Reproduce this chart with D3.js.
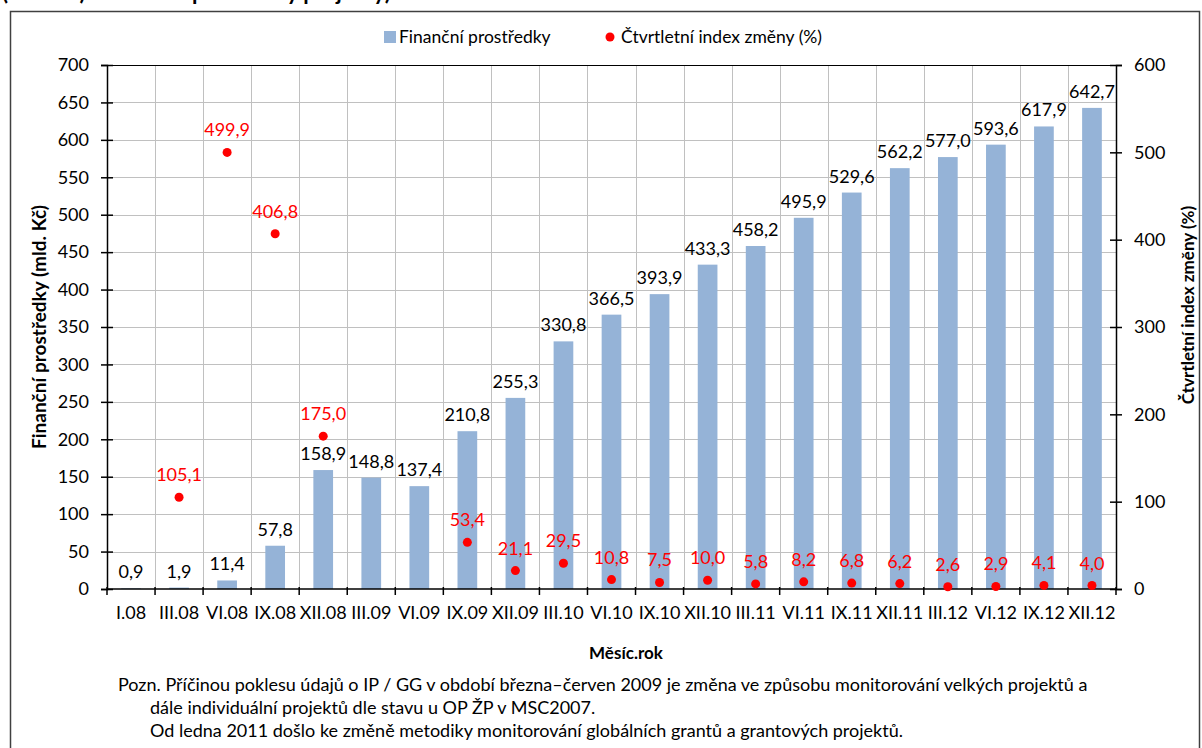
<!DOCTYPE html>
<html>
<head>
<meta charset="utf-8">
<script src="https://cdn.jsdelivr.net/npm/d3@7"></script>
<style>
  body { margin: 0; background: #fff; }
  text { font-family: Lato, "Open Sans", sans-serif; }
</style>
</head>
<body>
<script>
// Data
var kategorie = ["I.08", "III.08", "VI.08", "IX.08", "XII.08", "III.09", "VI.09", "IX.09", "XII.09",
                 "III.10", "VI.10", "IX.10", "XII.10", "III.11", "VI.11", "IX.11", "XII.11",
                 "III.12", "VI.12", "IX.12", "XII.12"];
var prostredky = [0.9, 1.9, 11.4, 57.8, 158.9, 148.8, 137.4, 210.8, 255.3, 330.8, 366.5,
                  393.9, 433.3, 458.2, 495.9, 529.6, 562.2, 577.0, 593.6, 617.9, 642.7];
var indexZmeny = [null, 105.1, 499.9, 406.8, 175.0, null, null, 53.4, 21.1, 29.5, 10.8,
                  7.5, 10.0, 5.8, 8.2, 6.8, 6.2, 2.6, 2.9, 4.1, 4.0];
var levaOsaTicky = [0, 50, 100, 150, 200, 250, 300, 350, 400, 450, 500, 550, 600, 650, 700];
var pravaOsaTicky = [0, 100, 200, 300, 400, 500, 600];

var w = 1202;
var h = 748;
var plocha = {left: 107, right: 1116, top: 65, bottom: 589};

var modra = "#95B3D7";
var cervena = "#FF0000";
var mrizka = "#C0C0C0";
var pismo = 18;

var svg = d3.select("body")
    .append("svg")
        .attr("width", w)
        .attr("height", h);

// cropped title of the original (only its bottom is visible)
svg.append("text")
    .attr("x", 2)
    .attr("y", 0)
    .attr("font-size", 22)
    .attr("font-weight", "bold")
    .text("(mld. Kč) – finanční prostředky projekty)");

// outer frame
svg.append("rect")
    .attr("x", 10.5).attr("y", 11.5)
    .attr("width", 1189).attr("height", 760)
    .attr("fill", "none")
    .attr("stroke", "#404040")
    .attr("stroke-width", 1.5);

// scales
var x = d3.scaleBand()
    .domain(kategorie)
    .range([plocha.left, plocha.right])
    .padding(0);
var yL = d3.scaleLinear().domain([0, 700]).range([plocha.bottom, plocha.top]);
var yR = d3.scaleLinear().domain([0, 600]).range([plocha.bottom, plocha.top]);
var sirkaSloupce = x.bandwidth() * 0.41;
var stred = function(c) { return x(c) + x.bandwidth() / 2; };
var fmt = function(v) { return d3.format(".1f")(v).replace(".", ","); };

// grid
svg.append("g").selectAll("line")
    .data(levaOsaTicky.slice(1, -1))
    .enter().append("line")
        .attr("x1", plocha.left).attr("x2", plocha.right)
        .attr("y1", function(d) { return Math.round(yL(d)) + 0.5; })
        .attr("y2", function(d) { return Math.round(yL(d)) + 0.5; })
        .attr("stroke", mrizka);

svg.append("g").selectAll("line")
    .data(kategorie.slice(1))
    .enter().append("line")
        .attr("x1", function(d) { return Math.round(x(d)) + 0.5; })
        .attr("x2", function(d) { return Math.round(x(d)) + 0.5; })
        .attr("y1", plocha.top).attr("y2", plocha.bottom)
        .attr("stroke", mrizka);

// top border of the plot
svg.append("line")
    .attr("x1", plocha.left).attr("x2", plocha.right)
    .attr("y1", plocha.top + 0.5).attr("y2", plocha.top + 0.5)
    .attr("stroke", "#000");

// bars
svg.append("g").selectAll("rect")
    .data(prostredky)
    .enter().append("rect")
        .attr("x", function(d, i) { return stred(kategorie[i]) - sirkaSloupce / 2; })
        .attr("y", function(d) { return yL(d); })
        .attr("width", sirkaSloupce)
        .attr("height", function(d) { return yL(0) - yL(d); })
        .attr("fill", modra);

// bar labels
svg.append("g").selectAll("text")
    .data(prostredky)
    .enter().append("text")
        .attr("x", function(d, i) { return stred(kategorie[i]); })
        .attr("y", function(d) { return yL(d) - 10; })
        .attr("text-anchor", "middle")
        .attr("font-size", pismo)
        .attr("fill", "#000")
        .text(fmt);

// axes
var osaL = svg.append("g")
    .attr("transform", "translate(" + plocha.left + ",0)")
    .call(d3.axisLeft(yL).tickValues(levaOsaTicky).tickSize(6).tickPadding(12));
var osaR = svg.append("g")
    .attr("transform", "translate(" + plocha.right + ",0)")
    .call(d3.axisRight(yR).tickValues(pravaOsaTicky).tickSize(6).tickPadding(12));
var osaX = svg.append("g")
    .attr("transform", "translate(0," + plocha.bottom + ")")
    .call(d3.axisBottom(x).tickSize(0).tickPadding(17));

osaL.selectAll(".tick line").attr("x1", 6);
osaR.selectAll(".tick line").attr("x1", -6);
[osaL, osaR, osaX].forEach(function(o) {
    o.select(".domain").attr("stroke", "#000").attr("stroke-width", 1.5);
    o.selectAll(".tick line").attr("stroke", "#000").attr("stroke-width", 1.5);
    o.selectAll("text").attr("font-family", "Lato, sans-serif").attr("font-size", pismo).attr("fill", "#000");
});
osaX.select(".domain").attr("d", "M" + plocha.left + ",0H" + plocha.right);

// x tick marks on category boundaries
svg.append("g").selectAll("line")
    .data(kategorie.concat(["konec"]))
    .enter().append("line")
        .attr("x1", function(d, i) { return plocha.left + i * x.step(); })
        .attr("x2", function(d, i) { return plocha.left + i * x.step(); })
        .attr("y1", plocha.bottom - 2).attr("y2", plocha.bottom + 6)
        .attr("stroke", "#000")
        .attr("stroke-width", 1.5);

// index dots and labels
var bodyData = indexZmeny
    .map(function(v, i) { return {k: kategorie[i], v: v}; })
    .filter(function(d) { return d.v !== null; });

svg.append("g").selectAll("circle")
    .data(bodyData)
    .enter().append("circle")
        .attr("cx", function(d) { return stred(d.k); })
        .attr("cy", function(d) { return yR(d.v); })
        .attr("r", 4.5)
        .attr("fill", cervena);

svg.append("g").selectAll("text")
    .data(bodyData)
    .enter().append("text")
        .attr("x", function(d) { return stred(d.k); })
        .attr("y", function(d) { return yR(d.v) - 16; })
        .attr("text-anchor", "middle")
        .attr("font-size", pismo)
        .attr("fill", cervena)
        .text(function(d) { return fmt(d.v); });

// axis titles
svg.append("text")
    .attr("transform", "translate(46," + (plocha.top + plocha.bottom) / 2 + ") rotate(-90)")
    .attr("text-anchor", "middle")
    .attr("font-size", 19)
    .attr("font-weight", "bold")
    .text("Finanční prostředky (mld. Kč)");

svg.append("text")
    .attr("transform", "translate(1194,305) rotate(-90)")
    .attr("text-anchor", "middle")
    .attr("font-size", 17)
    .attr("font-weight", "bold")
    .text("Čtvrtletní index změny (%)");

svg.append("text")
    .attr("x", 626).attr("y", 659)
    .attr("text-anchor", "middle")
    .attr("font-size", 17)
    .attr("font-weight", "bold")
    .text("Měsíc.rok");

// legend
var legenda = svg.append("g");
legenda.append("rect")
    .attr("x", 384).attr("y", 31)
    .attr("width", 12).attr("height", 12)
    .attr("fill", modra);
legenda.append("text")
    .attr("x", 399).attr("y", 43)
    .attr("font-size", 17.5)
    .text("Finanční prostředky");
legenda.append("circle")
    .attr("cx", 610).attr("cy", 37)
    .attr("r", 4.5)
    .attr("fill", cervena);
legenda.append("text")
    .attr("x", 621).attr("y", 43)
    .attr("font-size", 17.5)
    .text("Čtvrtletní index změny (%)");

// note
var poznamka = [
    {x: 118, y: 691, t: "Pozn. Příčinou poklesu údajů o IP / GG v období  března–červen 2009 je změna ve způsobu  monitorování velkých projektů a"},
    {x: 150, y: 714, t: "dále individuální projektů dle stavu u OP ŽP v MSC2007."},
    {x: 150, y: 737, t: "Od ledna 2011 došlo ke změně metodiky monitorování globálních grantů a grantových projektů."}
];
svg.append("g").selectAll("text")
    .data(poznamka)
    .enter().append("text")
        .attr("x", function(d) { return d.x; })
        .attr("y", function(d) { return d.y; })
        .attr("font-size", 18)
        .text(function(d) { return d.t; });
</script>
</body>
</html>
